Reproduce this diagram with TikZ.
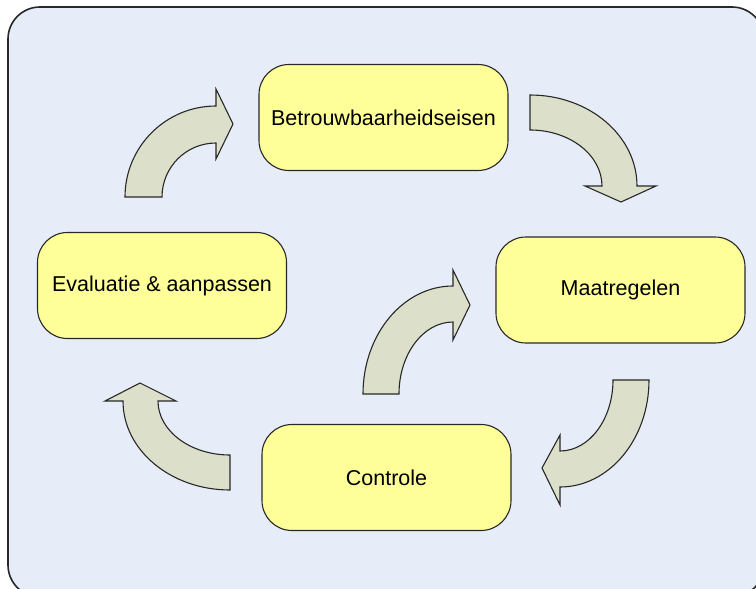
\documentclass[tikz,border=0pt]{standalone}
\usepackage{fontspec}
\setmainfont{Liberation Sans}
\definecolor{kaderblauw}{RGB}{230,236,248}
\definecolor{stapgeel}{RGB}{255,255,153}
\definecolor{pijlgrijs}{RGB}{220,224,203}
\definecolor{randgrijs}{RGB}{40,40,40}

\begin{document}
\begin{tikzpicture}[x=1pt,y=-1pt,
  stap/.style={draw=randgrijs,fill=stapgeel,rounded corners=30pt,line width=1.1pt,
    minimum width=249pt,minimum height=106pt,font=\fontsize{21.5}{25}\selectfont},
  pijl/.style={draw=randgrijs,fill=pijlgrijs,line width=1.1pt}]
\useasboundingbox (0,0) rectangle (756,589);
\draw[randgrijs,fill=kaderblauw,line width=1.6pt,rounded corners=32pt] (8,7) rectangle (764,597);

\node[stap] (eisen) at (383.5,117.5) {Betrouwbaarheidseisen};
\node[stap] (maatregelen) at (620.5,290) {Maatregelen};
\node[stap] (controle) at (386.5,477.5) {Controle};
\node[stap] (evaluatie) at (162,285.5) {Evaluatie \& aanpassen};

% pijlen rond de cyclus
\draw[pijl] (125,197) arc[start angle=180,end angle=270,radius=91]
  -- (216,89) -- (233,124) -- (216,159) -- (216,143)
  arc[start angle=270,end angle=180,radius=54] -- cycle;
\draw[pijl] (530,95) arc[start angle=270,end angle=360,x radius=107,y radius=91]
  -- (656,186) -- (621,202) -- (585,186) -- (602,186)
  arc[start angle=360,end angle=270,x radius=72,y radius=56] -- cycle;
\draw[pijl] (649,380) arc[start angle=0,end angle=90,x radius=89,y radius=107]
  -- (560,505) -- (542,468) -- (560,435) -- (560,451)
  arc[start angle=90,end angle=0,x radius=53,y radius=71] -- cycle;
\draw[pijl] (230,490) arc[start angle=90,end angle=180,x radius=107,y radius=89]
  -- (105,401) -- (140,383) -- (176,401) -- (158,401)
  arc[start angle=180,end angle=90,x radius=72,y radius=54] -- cycle;
\draw[pijl] (363,394) arc[start angle=180,end angle=270,x radius=90,y radius=108]
  -- (453,270) -- (470,305) -- (453,340) -- (453,322)
  arc[start angle=270,end angle=180,x radius=54,y radius=72] -- cycle;
\end{tikzpicture}
\end{document}
